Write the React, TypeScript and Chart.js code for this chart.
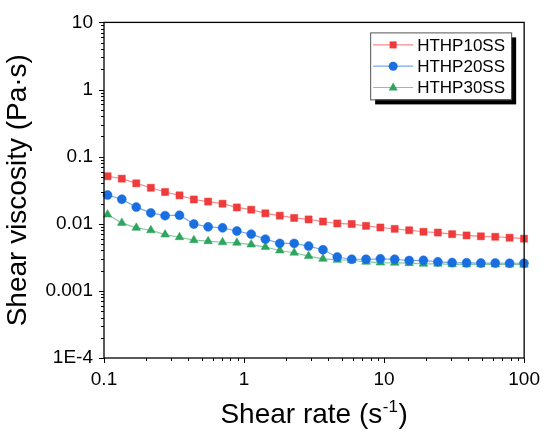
'use client'
import { useEffect, useRef } from "react";
import Chart from "chart.js/auto";

// Shear rate (s-1)
const shearRate = [
  0.106, 0.134, 0.17, 0.216, 0.273, 0.346, 0.438, 0.554, 0.702, 0.889,
  1.125, 1.42, 1.8, 2.28, 2.89, 3.66, 4.63, 5.87, 7.43, 9.41,
  11.9, 15.1, 19.1, 24.2, 30.6, 38.8, 49.1, 62.2, 78.7, 99.7,
];

// Shear viscosity (Pa·s)
const hthp10 = [
  0.051, 0.047, 0.04, 0.0344, 0.0297, 0.0265, 0.023, 0.0214, 0.0199, 0.0175,
  0.0162, 0.0143, 0.0132, 0.0122, 0.0116, 0.0108, 0.0101, 0.0099, 0.0093, 0.0088,
  0.0084, 0.008, 0.0076, 0.0074, 0.007, 0.0067, 0.0065, 0.0064, 0.0062, 0.006,
];
const hthp20 = [
  0.0268, 0.0232, 0.0177, 0.0145, 0.0132, 0.0134, 0.0099, 0.009, 0.0087, 0.0078,
  0.007, 0.0059, 0.0051, 0.0051, 0.00465, 0.0041, 0.0032, 0.00296, 0.00296, 0.003,
  0.00296, 0.00283, 0.00285, 0.00271, 0.00264, 0.00262, 0.0026, 0.0026, 0.00258, 0.00258,
];
const hthp30 = [
  0.0137, 0.0103, 0.0087, 0.008, 0.0069, 0.0063, 0.0057, 0.0055, 0.0053, 0.0052,
  0.0049, 0.0045, 0.004, 0.0037, 0.0033, 0.003, 0.0029, 0.00286, 0.00271, 0.00264,
  0.00262, 0.00259, 0.00253, 0.00253, 0.00249, 0.00248, 0.00248, 0.00247, 0.00247, 0.00246,
];

const seriesNames = ["HTHP10SS", "HTHP20SS", "HTHP30SS"];

const xTickValues = [0.1, 1, 10, 100];
const xTickLabels = ["0.1", "1", "10", "100"];
const yTickValues = [1e-4, 1e-3, 0.01, 0.1, 1, 10];
const yTickLabels = ["1E-4", "0.001", "0.01", "0.1", "1", "10"];

const FONT = "'Liberation Sans', Arial, sans-serif";

// box round the plot, log ticks (major + minor) pointing outwards
const framePlugin = {
  id: "frame",
  afterDatasetsDraw(chart: any) {
    const { ctx, chartArea: a, scales } = chart;
    ctx.save();
    ctx.strokeStyle = "#000";
    ctx.lineWidth = 1.3;
    ctx.strokeRect(a.left, a.top, a.right - a.left, a.bottom - a.top);

    const decadeTicks = (min: number, max: number) => {
      const out: { v: number; major: boolean }[] = [];
      for (let e = Math.round(Math.log10(min)); e <= Math.round(Math.log10(max)); e++) {
        for (let m = 1; m <= 9; m++) {
          const v = m * Math.pow(10, e);
          if (v >= min * 0.999 && v <= max * 1.001) out.push({ v, major: m === 1 });
        }
      }
      return out;
    };

    ctx.lineWidth = 1;
    ctx.beginPath();
    decadeTicks(scales.x.min, scales.x.max).forEach(({ v, major }) => {
      const px = Math.round(scales.x.getPixelForValue(v)) + 0.5;
      ctx.moveTo(px, a.bottom);
      ctx.lineTo(px, a.bottom + (major ? 5 : 3));
    });
    decadeTicks(scales.y.min, scales.y.max).forEach(({ v, major }) => {
      const py = Math.round(scales.y.getPixelForValue(v)) + 0.5;
      ctx.moveTo(a.left, py);
      ctx.lineTo(a.left - (major ? 5 : 3), py);
    });
    ctx.stroke();
    ctx.restore();
  },
};

const drawMarker = (ctx: CanvasRenderingContext2D, style: string, x: number, y: number, color: string) => {
  ctx.fillStyle = color;
  ctx.beginPath();
  if (style === "rect") {
    ctx.rect(x - 3.5, y - 3.5, 7, 7);
  } else if (style === "circle") {
    ctx.arc(x, y, 4.5, 0, Math.PI * 2);
  } else {
    ctx.moveTo(x, y - 5);
    ctx.lineTo(x + 4.5, y + 3);
    ctx.lineTo(x - 4.5, y + 3);
    ctx.closePath();
  }
  ctx.fill();
};

// legend box with a black drop shadow, and the x title with a real superscript
const overlayPlugin = {
  id: "overlay",
  afterDraw(chart: any) {
    const { ctx, chartArea: a } = chart;
    ctx.save();

    const w = 141;
    const h = 67;
    const bx = a.right - 13 - w;
    const by = a.top + 10;
    ctx.fillStyle = "#000";
    ctx.fillRect(bx + 5, by + 5, w, h);
    ctx.fillStyle = "#fff";
    ctx.fillRect(bx, by, w, h);
    ctx.strokeStyle = "#555";
    ctx.lineWidth = 1;
    ctx.strokeRect(bx + 0.5, by + 0.5, w, h);

    ctx.font = `17px ${FONT}`;
    ctx.textBaseline = "middle";
    chart.data.datasets.forEach((ds: any, i: number) => {
      const ry = by + 12.5 + i * 21.3;
      ctx.strokeStyle = ds.borderColor;
      ctx.lineWidth = 1.2;
      ctx.beginPath();
      ctx.moveTo(bx + 3, ry);
      ctx.lineTo(bx + 43, ry);
      ctx.stroke();
      drawMarker(ctx, ds.pointStyle, bx + 23, ry, ds.pointBackgroundColor);
      ctx.fillStyle = "#000";
      ctx.fillText(ds.label, bx + 47, ry + 1);
    });

    // x axis title: Shear rate (s^-1)
    const cx = (a.left + a.right) / 2;
    const ty = chart.height - 12.5;
    const main = `28px ${FONT}`;
    const sup = `17px ${FONT}`;
    ctx.textBaseline = "alphabetic";
    ctx.font = main;
    const w1 = ctx.measureText("Shear rate (s").width;
    const w3 = ctx.measureText(")").width;
    ctx.font = sup;
    const w2 = ctx.measureText("-1").width;
    let x = cx - (w1 + w2 + w3 + 1) / 2;
    ctx.fillStyle = "#000";
    ctx.font = main;
    ctx.fillText("Shear rate (s", x, ty);
    x += w1 + 0.5;
    ctx.font = sup;
    ctx.fillText("-1", x, ty - 11);
    x += w2 + 0.5;
    ctx.font = main;
    ctx.fillText(")", x, ty);

    ctx.restore();
  },
};

const ViscosityChart = () => {
  const chartRef = useRef<HTMLCanvasElement | null>(null);

  useEffect(() => {
    if (!chartRef.current) return;

    const series = [
      { data: hthp10, color: "#EE3B3B", line: "rgba(238, 59, 59, 0.6)", style: "rect", r: 5 },
      { data: hthp20, color: "#1A6FE0", line: "rgba(26, 111, 224, 0.6)", style: "circle", r: 4.5 },
      { data: hthp30, color: "#2EA55E", line: "rgba(46, 165, 94, 0.6)", style: "triangle", r: 5 },
    ];

    const chart = new Chart(chartRef.current, {
      type: "line",
      data: {
        datasets: series.map((s, i) => ({
          label: seriesNames[i],
          data: shearRate.map((x, k) => ({ x, y: s.data[k] })),
          borderColor: s.line,
          borderWidth: 1.2,
          pointStyle: s.style,
          pointRadius: s.r,
          pointBackgroundColor: s.color,
          pointBorderColor: s.color,
          pointBorderWidth: 0.5,
          tension: 0,
          clip: false,
        })),
      },
      options: {
        animation: false,
        responsive: true,
        maintainAspectRatio: false,
        layout: { padding: { top: 17, right: 23, left: 0, bottom: 0 } },
        plugins: {
          legend: { display: false },
          tooltip: { enabled: false },
        },
        scales: {
          x: {
            type: "logarithmic",
            min: 0.1,
            max: 100,
            afterBuildTicks: (scale: any) => {
              scale.ticks = xTickValues.map((value) => ({ value }));
            },
            afterFit: (scale: any) => {
              scale.height = 77;
            },
            ticks: {
              autoSkip: false,
              maxRotation: 0,
              padding: 10,
              color: "#000",
              font: { family: FONT, size: 19 },
              callback: (v: any) => xTickLabels[xTickValues.indexOf(Number(v))] ?? "",
            },
            grid: { display: false, drawTicks: false },
            border: { display: false },
          },
          y: {
            type: "logarithmic",
            min: 1e-4,
            max: 10,
            afterBuildTicks: (scale: any) => {
              scale.ticks = yTickValues.map((value) => ({ value }));
            },
            afterFit: (scale: any) => {
              scale.width = 104;
            },
            ticks: {
              autoSkip: false,
              padding: 11,
              color: "#000",
              font: { family: FONT, size: 19 },
              callback: (v: any) => yTickLabels[yTickValues.indexOf(Number(v))] ?? "",
            },
            grid: { display: false, drawTicks: false },
            border: { display: false },
            title: {
              display: true,
              text: "Shear viscosity (Pa·s)",
              color: "#000",
              font: { family: FONT, size: 28 },
              padding: { top: 1, bottom: 0 },
            },
          },
        },
      },
      plugins: [framePlugin, overlayPlugin],
    } as any);

    return () => {
      chart.destroy();
    };
  }, []);

  return (
    <div style={{ position: "fixed", left: 0, top: 0, width: 550, height: 435, background: "#fff" }}>
      <canvas ref={chartRef} />
    </div>
  );
};

export default function App() {
  return <ViscosityChart />;
}
